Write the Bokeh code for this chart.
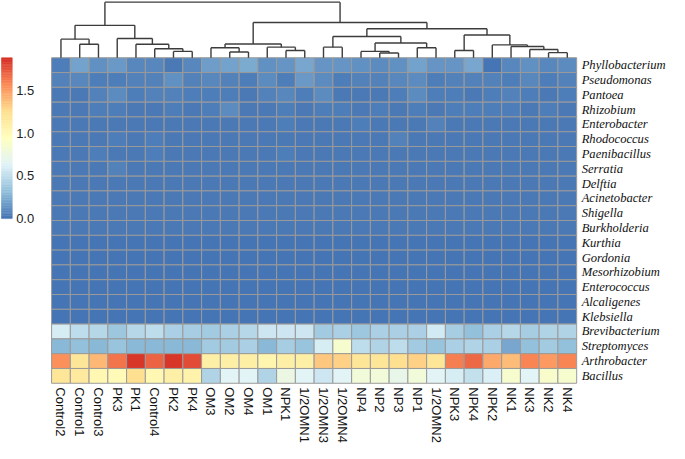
import numpy as np
from bokeh.plotting import figure
from bokeh.models import Range1d, ColumnDataSource, LinearColorMapper
from bokeh.core.properties import value
from bokeh.embed import file_html
from bokeh.resources import INLINE

# ---------------- data ----------------
samples = ["Control2", "Control1", "Control3", "PK3", "PK1", "Control4", "PK2", "PK4",
           "OM3", "OM2", "OM4", "OM1", "NPK1", "1/2OMN1", "1/2OMN3", "1/2OMN4",
           "NP4", "NP2", "NP3", "NP1", "1/2OMN2", "NPK3", "NPK4", "NPK2",
           "NK1", "NK3", "NK2", "NK4"]

taxa = ["Phyllobacterium", "Pseudomonas", "Pantoea", "Rhizobium", "Enterobacter",
        "Rhodococcus", "Paenibacillus", "Serratia", "Delftia", "Acinetobacter",
        "Shigella", "Burkholderia", "Kurthia", "Gordonia", "Mesorhizobium",
        "Enterococcus", "Alcaligenes", "Klebsiella", "Brevibacterium",
        "Streptomyces", "Arthrobacter", "Bacillus"]

Phyllobacterium = [0.05, 0.20, 0.13, 0.16, 0.09, 0.09, 0.03, 0.08, 0.18, 0.19, 0.23, 0.12, 0.15, 0.21,
                   0.15, 0.14, 0.13, 0.10, 0.12, 0.19, 0.14, 0.15, 0.22, 0.00, 0.08, 0.12, 0.08, 0.10]
Pseudomonas = [0.06, 0.08, 0.05, 0.04, 0.06, 0.06, 0.12, 0.06, 0.08, 0.06, 0.04, 0.10, 0.05, 0.16,
               0.10, 0.05, 0.07, 0.06, 0.08, 0.10, 0.05, 0.07, 0.06, 0.07, 0.05, 0.08, 0.05, 0.06]
Pantoea = [0.03, 0.03, 0.06, 0.10, 0.04, 0.06, 0.07, 0.04, 0.05, 0.05, 0.02, 0.06, 0.08, 0.04,
           0.11, 0.03, 0.03, 0.03, 0.04, 0.10, 0.05, 0.04, 0.03, 0.04, 0.06, 0.04, 0.03, 0.04]
Rhizobium = [0.03, 0.03, 0.04, 0.05, 0.03, 0.03, 0.04, 0.03, 0.04, 0.10, 0.03, 0.03, 0.04, 0.03,
             0.04, 0.05, 0.03, 0.04, 0.03, 0.04, 0.03, 0.05, 0.04, 0.05, 0.04, 0.03, 0.04, 0.03]
Enterobacter = [0.03, 0.03, 0.03, 0.03, 0.03, 0.03, 0.03, 0.03, 0.03, 0.03, 0.03, 0.03, 0.04, 0.03,
                0.03, 0.03, 0.04, 0.03, 0.03, 0.03, 0.07, 0.03, 0.03, 0.03, 0.03, 0.03, 0.03, 0.03]
Rhodococcus = [0.03, 0.03, 0.03, 0.04, 0.03, 0.05, 0.03, 0.03, 0.03, 0.03, 0.03, 0.03, 0.03, 0.03,
               0.03, 0.03, 0.03, 0.03, 0.06, 0.03, 0.03, 0.03, 0.03, 0.03, 0.03, 0.03, 0.03, 0.03]
Paenibacillus = [0.03, 0.03, 0.05, 0.03, 0.03, 0.05, 0.03, 0.03, 0.03, 0.03, 0.03, 0.03, 0.05, 0.03,
                 0.03, 0.03, 0.03, 0.03, 0.03, 0.03, 0.03, 0.03, 0.03, 0.03, 0.03, 0.03, 0.03, 0.03]
Serratia = [0.03, 0.03, 0.03, 0.07, 0.03, 0.03, 0.03, 0.03, 0.03, 0.03, 0.03, 0.03, 0.03, 0.03,
            0.03, 0.03, 0.03, 0.03, 0.03, 0.03, 0.03, 0.03, 0.03, 0.03, 0.03, 0.03, 0.03, 0.03]
Delftia = [0.02, 0.02, 0.02, 0.02, 0.02, 0.02, 0.02, 0.02, 0.02, 0.02, 0.02, 0.02, 0.02, 0.02,
           0.02, 0.02, 0.02, 0.02, 0.02, 0.02, 0.02, 0.02, 0.02, 0.02, 0.02, 0.02, 0.02, 0.02]
Acinetobacter = [0.02, 0.02, 0.02, 0.02, 0.02, 0.02, 0.02, 0.02, 0.02, 0.02, 0.02, 0.02, 0.02, 0.02,
                 0.02, 0.02, 0.02, 0.02, 0.02, 0.02, 0.02, 0.02, 0.02, 0.02, 0.02, 0.02, 0.02, 0.02]
Shigella = [0.02] * 28
Burkholderia = [0.02] * 28
Kurthia = [0.01] * 28
Gordonia = [0.01] * 28
Mesorhizobium = [0.01] * 28
Enterococcus = [0.01] * 28
Alcaligenes = [0.01] * 28
Klebsiella = [0.01] * 28
Brevibacterium = [0.60, 0.50, 0.46, 0.36, 0.46, 0.50, 0.43, 0.41, 0.39, 0.43, 0.46, 0.55, 0.55, 0.55,
                  0.38, 0.42, 0.36, 0.42, 0.42, 0.42, 0.58, 0.40, 0.33, 0.42, 0.46, 0.40, 0.45, 0.45]
Streptomyces = [0.30, 0.32, 0.30, 0.35, 0.30, 0.30, 0.30, 0.30, 0.38, 0.38, 0.42, 0.30, 0.40, 0.35,
                0.60, 0.85, 0.50, 0.45, 0.50, 0.38, 0.35, 0.42, 0.45, 0.42, 0.22, 0.32, 0.38, 0.32]
Arthrobacter = [1.55, 1.20, 1.40, 1.65, 1.85, 1.70, 1.86, 1.78, 1.10, 1.10, 1.10, 1.05, 1.10, 1.10,
                1.35, 1.30, 1.20, 1.20, 1.25, 1.30, 1.20, 1.60, 1.68, 1.45, 1.38, 1.58, 1.52, 1.58]
Bacillus = [1.20, 1.15, 1.02, 0.98, 1.25, 1.02, 1.10, 1.06, 0.45, 0.65, 0.65, 0.45, 0.75, 0.65,
            0.55, 0.65, 0.80, 0.80, 0.70, 0.80, 0.65, 0.60, 0.52, 0.62, 0.85, 0.65, 0.88, 0.85]

rows = [Phyllobacterium, Pseudomonas, Pantoea, Rhizobium, Enterobacter, Rhodococcus,
        Paenibacillus, Serratia, Delftia, Acinetobacter, Shigella, Burkholderia, Kurthia,
        Gordonia, Mesorhizobium, Enterococcus, Alcaligenes, Klebsiella, Brevibacterium,
        Streptomyces, Arthrobacter, Bacillus]

# column dendrogram: (left node, right node, height); leaves 0..27, merges numbered from 28
dendro_merges = [
    (1, 2, 14.0), (0, 28, 19.3), (6, 7, 6.6), (5, 30, 9.3), (4, 31, 14.0), (3, 32, 20.0),
    (29, 33, 33.6), (9, 10, 6.0), (8, 35, 10.3), (12, 13, 7.6), (11, 37, 11.0), (36, 38, 14.3),
    (14, 15, 11.0), (17, 18, 5.0), (16, 41, 6.6), (19, 20, 10.3), (42, 43, 15.3), (40, 44, 22.0),
    (21, 22, 7.6), (26, 27, 5.3), (25, 47, 8.6), (24, 48, 11.6), (23, 49, 13.3), (46, 50, 23.6),
    (45, 51, 30.0), (39, 52, 36.6), (34, 53, 57.6),
]

legend_ticks = [0.0, 0.5, 1.0, 1.5]
vmin, vmax = 0.0, 1.88

# ---------------- colour palette (pheatmap default: rev RdYlBu 7) ----------------
anchors = ["#4575B4", "#91BFDB", "#E0F3F8", "#FFFFBF", "#FEE090", "#FC8D59", "#D73027"]
arr = np.array([[int(c[i:i + 2], 16) for i in (1, 3, 5)] for c in anchors], dtype=float)
pos = np.linspace(0, 1, len(anchors))
tt = np.linspace(0, 1, 100)
palette = ["#%02x%02x%02x" % tuple(int(round(np.interp(t, pos, arr[:, k]))) for k in range(3)) for t in tt]
mapper = LinearColorMapper(palette=palette, low=vmin, high=vmax)

# ---------------- figure ----------------
n_col, n_row = len(samples), len(taxa)
p = figure(width=669, height=443, x_range=Range1d(-2.724, 32.95), y_range=Range1d(26.07, -3.87),
           output_backend="svg", toolbar_location=None, min_border=0)
p.axis.visible = False
p.grid.visible = False
p.outline_line_color = None
p.background_fill_color = "white"
p.border_fill_color = "white"

# heatmap
xs, ys, vs = [], [], []
for r, vals in enumerate(rows):
    for c, v in enumerate(vals):
        xs.append(c + 0.5)
        ys.append(r + 0.5)
        vs.append(v)
src = ColumnDataSource(dict(x=xs, y=ys, v=vs))
p.rect(x="x", y="y", width=1, height=1, source=src,
       fill_color={"field": "v", "transform": mapper}, line_color="#9a9a9a", line_width=1)

# dendrogram
row_px = 15.33
node_x = {i: i + 0.5 for i in range(n_col)}
node_h = {i: 0.0 for i in range(n_col)}
x0s, y0s, x1s, y1s = [], [], [], []
for k, (a, b, h) in enumerate(dendro_merges):
    nid = n_col + k
    yy = -h / row_px
    for ch in (a, b):
        x0s.append(node_x[ch]); x1s.append(node_x[ch])
        y0s.append(-node_h[ch] / row_px); y1s.append(yy)
    x0s.append(node_x[a]); x1s.append(node_x[b]); y0s.append(yy); y1s.append(yy)
    node_x[nid] = (node_x[a] + node_x[b]) / 2
    node_h[nid] = h
p.segment(x0=x0s, y0=y0s, x1=x1s, y1=y1s, line_color="#3c3c3c", line_width=1.4)

# colour legend
cb_top, cb_bot = 0.0, 10.87
edges = np.linspace(vmin, vmax, len(palette) + 1)
def v2y(v):
    return cb_bot - (v - vmin) / (vmax - vmin) * (cb_bot - cb_top)
p.quad(left=-2.672, right=-2.099, top=[v2y(e) for e in edges[1:]], bottom=[v2y(e) for e in edges[:-1]],
       fill_color=palette, line_color=palette, line_width=0.5)
p.text(x=[-1.89] * len(legend_ticks), y=[v2y(t) for t in legend_ticks],
       text=["%.1f" % t for t in legend_ticks], text_font=value("Liberation Sans"),
       text_font_size="13px", text_align="left", text_baseline="middle", text_color="#222222")

# row labels
p.text(x=[n_col] * n_row, y=[r + 0.5 for r in range(n_row)], text=taxa, x_offset=5,
       text_font=value("Liberation Serif"), text_font_style="italic", text_font_size="12.6px",
       text_align="left", text_baseline="middle", text_color="#111111")

# column labels
p.text(x=[c + 0.5 for c in range(n_col)], y=[n_row] * n_col, text=samples, y_offset=4,
       angle=-np.pi / 2, text_font=value("Liberation Sans"), text_font_size="13px",
       text_align="left", text_baseline="middle", text_color="#111111")

open("out.html", "w").write(file_html(p, INLINE))
